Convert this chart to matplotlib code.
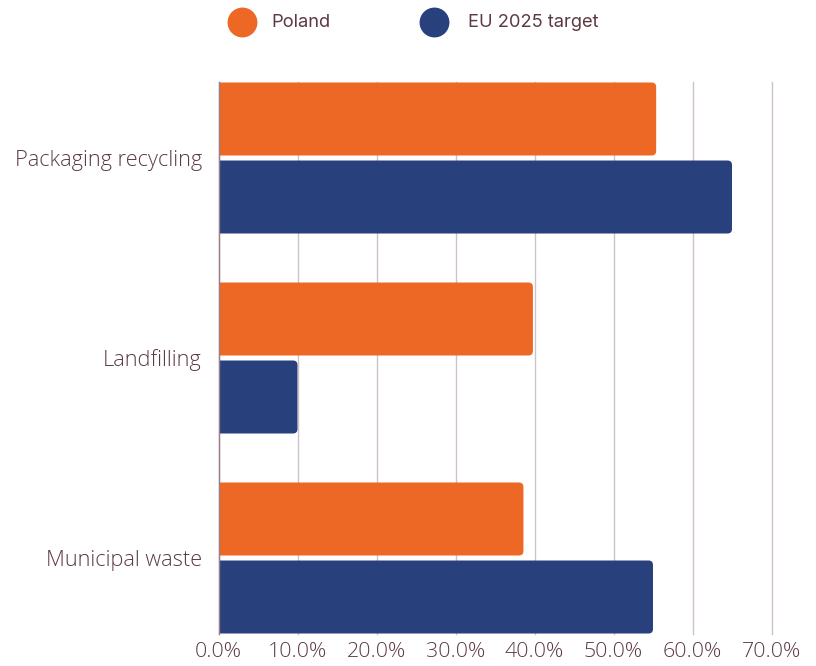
import matplotlib
matplotlib.use("Agg")
import matplotlib.pyplot as plt
from matplotlib.patches import FancyBboxPatch
from matplotlib.lines import Line2D
from matplotlib.ticker import FuncFormatter

categories = ["Packaging recycling", "Landfilling", "Municipal waste"]
poland = [55.4, 39.8, 38.6]
eu_target = [65.0, 10.0, 55.0]
series_names = ["Poland", "EU 2025 target"]
x_ticks = [0, 10, 20, 30, 40, 50, 60, 70]

ORANGE = "#EC6824"
NAVY = "#28407C"
TEXT = "#5B3A42"
GRID = "#CDC2C6"

W, H, DPI = 816, 666, 100
fig = plt.figure(figsize=(W / DPI, H / DPI), dpi=DPI)
ax = fig.add_axes([218.5 / W, 32 / H, (771.5 - 218.5) / W, (634 - 82) / H])

bar_h = 0.365
offset = 0.195
ax.set_xlim(0, 70)
ax.set_ylim(2.38, -0.38)

# px per data unit, used to keep the corner rounding circular
px_x = (771.5 - 218.5) / 70.0
px_y = (634 - 82) / 2.76
radius_px = 4.5
pad = 3.0  # extend bars left of 0 so only the right corners show rounding

for vals, color, sign in [(poland, ORANGE, -1), (eu_target, NAVY, 1)]:
    for i, v in enumerate(vals):
        yc = i + sign * offset
        p = FancyBboxPatch((-pad, yc - bar_h / 2), v + pad, bar_h,
                           boxstyle=f"round,pad=0,rounding_size={radius_px / px_x}",
                           mutation_aspect=px_x / px_y,
                           facecolor=color, edgecolor="none", zorder=3,
                           clip_on=True)
        ax.add_patch(p)

ax.set_xticks(x_ticks)
ax.xaxis.set_major_formatter(FuncFormatter(lambda v, _: f"{v:.1f}%"))
ax.set_yticks(range(len(categories)))
ax.set_yticklabels(categories)
ax.tick_params(axis="both", length=0, colors=TEXT)
ax.tick_params(axis="x", pad=6, labelsize=15.4)
ax.tick_params(axis="y", pad=12, labelsize=15.7)
for lab in ax.get_xticklabels() + ax.get_yticklabels():
    lab.set_fontfamily("Open Sans")
    lab.set_fontweight(300)
    lab.set_color(TEXT)

ax.grid(axis="x", color=GRID, linewidth=1, zorder=0)
for gl in ax.get_xgridlines():
    gl.set_clip_on(False)
ax.set_axisbelow(True)
for s in ["top", "right", "bottom"]:
    ax.spines[s].set_visible(False)
ax.spines["left"].set_color("#9A7E84")
ax.spines["left"].set_linewidth(1)
ax.spines["left"].set_zorder(4)

# legend
for cx, color, name, tx in [(242, ORANGE, series_names[0], 271),
                            (434, NAVY, series_names[1], 468)]:
    fig.add_artist(Line2D([cx / W], [1 - 21.5 / H], marker="o", markersize=20.5,
                          color=color, linestyle="none",
                          transform=fig.transFigure))
    fig.text(tx / W, 1 - 22.5 / H, name, color=TEXT, fontsize=13.2,
             fontfamily="Inter", va="center", ha="left")

fig.savefig("out.png", dpi=DPI)
